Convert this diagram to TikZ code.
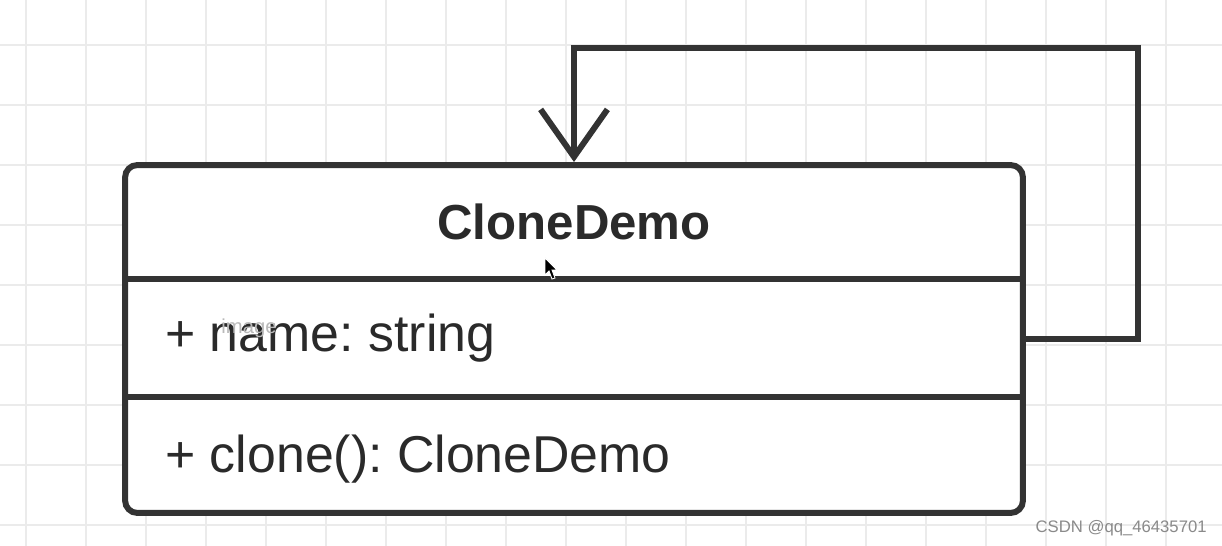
\documentclass[tikz,border=0pt]{standalone}
\usepackage{fontspec}
\setmainfont{Liberation Sans}
\usepackage{xcolor}
\usetikzlibrary{arrows.meta}
\frenchspacing

\definecolor{gridgray}{HTML}{EBEBEB}
\definecolor{umlline}{HTML}{333333}
\definecolor{umltext}{HTML}{2A2A2A}
\definecolor{marktext}{HTML}{8A8A8A}

\begin{document}
\begin{tikzpicture}[x = 0.02cm, y = -0.02cm,
		grid line/.style = {draw = gridgray, line width = 1.1pt},
		uml line/.style = {draw = umlline, line width = 3.4pt},
		member/.style = {anchor = base west, inner sep = 0pt, text = umltext, font = \fontsize{29.5}{34}\selectfont}]
		
		\useasboundingbox (0,0) rectangle (1222,546);
		\fill [white] (0,0) rectangle (1222,546);
		
		%grid
		\foreach \x in {26, 86, ..., 1186}
			\draw [grid line] (\x,0) -- (\x,546);
		\foreach \y in {45, 105, ..., 525}
			\draw [grid line] (0,\y) -- (1222,\y);
		
		\def\top{165};
		\def\first{279};
		\def\second{397};
		
		%class box
		\node [uml line, fill = white, rounded corners = 7pt, minimum width = 17.96cm, minimum height = 6.96cm] (clone demo) at (574,339) {};
		\draw [uml line] (125,\first) -- (1023,\first);
		\draw [uml line] (125,\second) -- (1023,\second);
		
		\node [text = umltext, font = \fontsize{28}{34}\selectfont\bfseries] (class name) at (574,222) {CloneDemo};
		\node [member] (name field) at (165,352) {+ name: string};
		\node [member] (clone method) at (165,472) {+ clone(): CloneDemo};
		
		%self dependency
		\coordinate (loop corner) at (1138,48);
		\draw [uml line, -{Straight Barb[length = 27pt, width = 38pt]}] (clone demo.east) -| (loop corner) -| (clone demo.north);
		
		%screen leftovers
		\node [text = marktext!60, font = \fontsize{11.5}{12}\selectfont, inner sep = 0pt] (image mark) at (249,328) {image};
		\fill [black, draw = white, line width = 0.5pt] (545,258) -- (545,275) -- (549,271) -- (552,279) -- (555,278) -- (552,270) -- (557,270) -- cycle;
		\node [text = marktext, font = \fontsize{9.5}{11}\selectfont, anchor = east, inner sep = 0pt] (csdn mark) at (1207,528) {CSDN @qq\_46435701};
	\end{tikzpicture}
\end{document}
